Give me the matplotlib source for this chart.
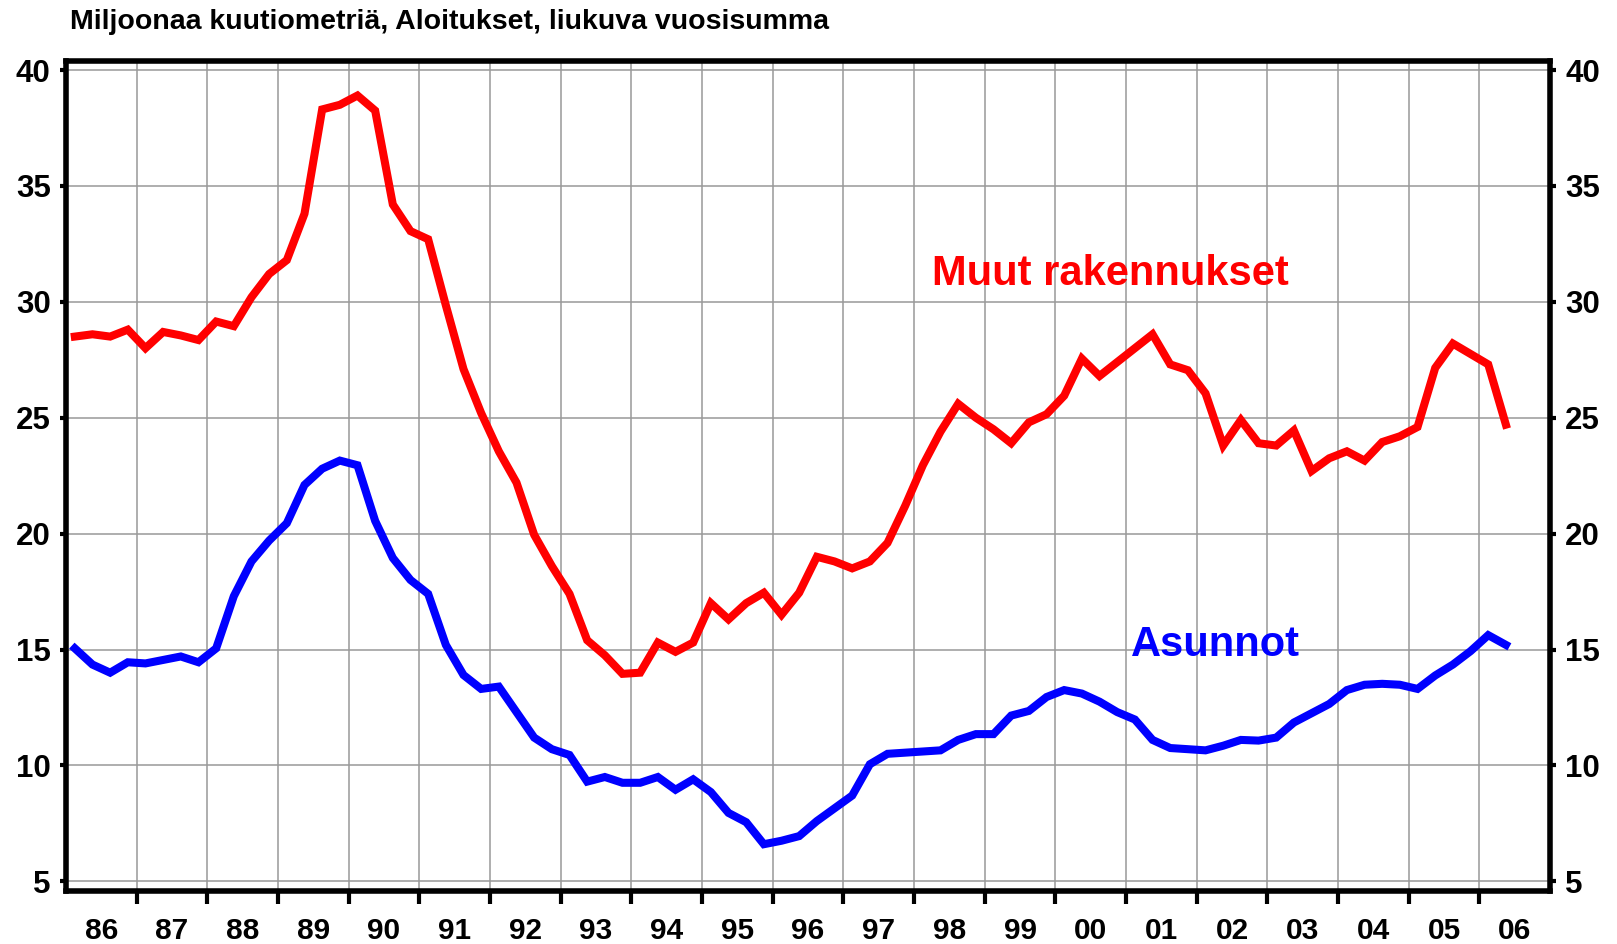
import numpy as np
import matplotlib
matplotlib.use("Agg")
import matplotlib.pyplot as plt
from matplotlib.ticker import FixedLocator, NullFormatter

plt.rcParams['font.family'] = ['Liberation Sans', 'DejaVu Sans']

# quarterly data, 1986Q1 .. 2006Q2
start_year = 1986
muut = [28.5, 28.6, 28.5, 28.8, 28.0, 28.7, 28.55, 28.35, 29.15, 28.95,
        30.2, 31.2, 31.8, 33.8, 38.3, 38.5, 38.9, 38.25, 34.2, 33.05,
        32.7, 29.85, 27.1, 25.2, 23.55, 22.2, 19.95, 18.6, 17.4, 15.4,
        14.75, 13.95, 14.0, 15.3, 14.9, 15.3, 17.0, 16.3, 17.0, 17.45,
        16.5, 17.45, 19.0, 18.8, 18.5, 18.8, 19.6, 21.2, 22.95, 24.4,
        25.6, 25.0, 24.5, 23.9, 24.8, 25.15, 25.95, 27.55, 26.8, 27.4,
        28.0, 28.6, 27.3, 27.05, 26.05, 23.8, 24.9, 23.9, 23.8, 24.45,
        22.7, 23.25, 23.55, 23.15, 23.95, 24.2, 24.6, 27.15, 28.2, 27.75,
        27.3, 24.7]
asunnot = [15.05, 14.35, 14.0, 14.45, 14.4, 14.55, 14.7, 14.45, 15.05, 17.3,
           18.8, 19.7, 20.45, 22.1, 22.8, 23.15, 22.95, 20.55, 18.95, 18.0,
           17.4, 15.2, 13.9, 13.3, 13.4, 12.3, 11.2, 10.7, 10.45, 9.3,
           9.5, 9.25, 9.25, 9.5, 8.95, 9.4, 8.85, 7.95, 7.55, 6.6,
           6.75, 6.95, 7.6, 8.15, 8.7, 10.05, 10.5, 10.55, 10.6, 10.65,
           11.1, 11.35, 11.35, 12.15, 12.35, 12.95, 13.25, 13.1, 12.75, 12.3,
           11.98, 11.1, 10.75, 10.7, 10.65, 10.85, 11.1, 11.07, 11.2, 11.85,
           12.25, 12.65, 13.25, 13.48, 13.52, 13.48, 13.3, 13.88, 14.35, 14.93,
           15.62, 15.2]
year_labels = ["86", "87", "88", "89", "90", "91", "92", "93", "94", "95", "96",
               "97", "98", "99", "00", "01", "02", "03", "04", "05", "06"]
y_ticks = [5, 10, 15, 20, 25, 30, 35, 40]

x = start_year + (np.arange(len(muut)) + 0.5) / 4.0

fig = plt.figure(figsize=(16.17, 9.44), dpi=100)
ax = fig.add_axes([0.0408, 0.0561, 0.9178, 0.8788])

ax.plot(x, muut, color='#ff0000', lw=5.8, solid_joinstyle='miter', zorder=3)
ax.plot(x, asunnot, color='#0000ff', lw=5.8, solid_joinstyle='miter', zorder=3)

ax.set_xlim(start_year, start_year + len(year_labels))
ax.set_ylim(4.58, 40.37)

# year boundaries as major ticks, labels at year centres
bounds = np.arange(start_year, start_year + len(year_labels) + 1)
ax.xaxis.set_major_locator(FixedLocator(bounds[1:-1]))
ax.xaxis.set_major_formatter(NullFormatter())
ax.xaxis.set_minor_locator(FixedLocator(bounds[:-1] + 0.5))
ax.set_xticklabels(year_labels, minor=True)
ax.tick_params(axis='x', which='major', direction='out', length=9, width=3, color='black')
ax.tick_params(axis='x', which='minor', length=0, pad=19, labelsize=21.5)

ax.set_yticks(y_ticks)
ax.tick_params(axis='y', which='major', direction='out', length=4, width=3,
               labelsize=22.5, pad=7, right=True, labelright=True)

for lab in ax.get_xticklabels(minor=True):
    lab.set_fontweight('bold')
for t in ax.yaxis.get_major_ticks():
    t.label1.set_fontweight('bold')
    t.label2.set_fontweight('bold')

ax.grid(True, which='major', color='#999999', lw=1.1, zorder=0)
for s in ax.spines.values():
    s.set_linewidth(4)
    s.set_color('black')

ax.text(1998.25, 31.2, "Muut rakennukset", color='#ff0000', fontsize=30,
        fontweight='bold', va='center', ha='left')
ax.text(2001.07, 15.18, "Asunnot", color='#0000ff', fontsize=30,
        fontweight='bold', va='center', ha='left')

fig.text(0.043, 0.977, "Miljoonaa kuutiometriä, Aloitukset, liukuva vuosisumma",
         fontsize=20.5, fontweight='bold', va='center', ha='left')

fig.savefig("out.png", dpi=100, facecolor='white')
